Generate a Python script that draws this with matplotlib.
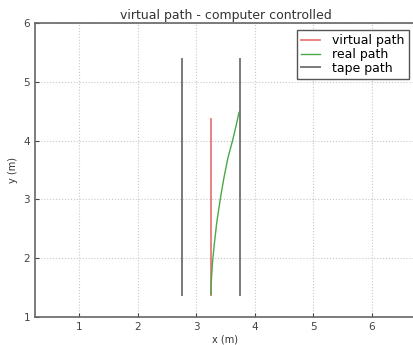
import numpy as np
import matplotlib
matplotlib.use("Agg")
import matplotlib.pyplot as plt

# paths (metres)
virtual_x = [3.25, 3.25]
virtual_y = [1.38, 4.37]

real_x = [3.25, 3.26, 3.28, 3.31, 3.35, 3.41, 3.47, 3.54, 3.62, 3.68, 3.73]
real_y = [1.38, 1.65, 1.95, 2.25, 2.60, 3.00, 3.35, 3.70, 4.00, 4.25, 4.48]

tape_left_x = [2.75, 2.75]
tape_right_x = [3.75, 3.75]
tape_y = [1.38, 5.38]

fig = plt.figure(figsize=(4.14, 3.45), dpi=100)
ax = fig.add_axes([35 / 414, 28 / 345, 381 / 414, 294 / 345])

ax.plot(virtual_x, virtual_y, color="#e8787a", lw=1.3, label="virtual path")
ax.plot(real_x, real_y, color="#4aa84a", lw=1.0, label="real path")
ax.plot(tape_left_x, tape_y, color="#7a7a7a", lw=1.4, label="tape path")
ax.plot(tape_right_x, tape_y, color="#7a7a7a", lw=1.4)

ax.set_xlim(0.25, 6.75)
ax.set_ylim(1, 6)
ax.set_xticks([1, 2, 3, 4, 5, 6])
ax.set_yticks([1, 2, 3, 4, 5, 6])
ax.grid(True, color="#c8c8c8", linestyle=":", lw=0.8)
ax.tick_params(direction="in", length=3, labelsize=7.5, colors="#444444")
for s in ax.spines.values():
    s.set_color("#666666")
    s.set_linewidth(1.2)

ax.set_title("virtual path - computer controlled", fontsize=9, color="#333333", pad=3)
ax.set_xlabel("x (m)", fontsize=7, color="#333333", labelpad=2)
ax.set_ylabel("y (m)", fontsize=7, color="#333333", labelpad=4)

leg = ax.legend(loc="upper right", bbox_to_anchor=(0.988, 0.985), fontsize=9,
                fancybox=False, framealpha=1, handlelength=1.5, borderpad=0.35,
                labelspacing=0.05, handletextpad=1.0, borderaxespad=0.2)
leg.get_frame().set_edgecolor("#555555")

fig.savefig("out.png", dpi=100)
